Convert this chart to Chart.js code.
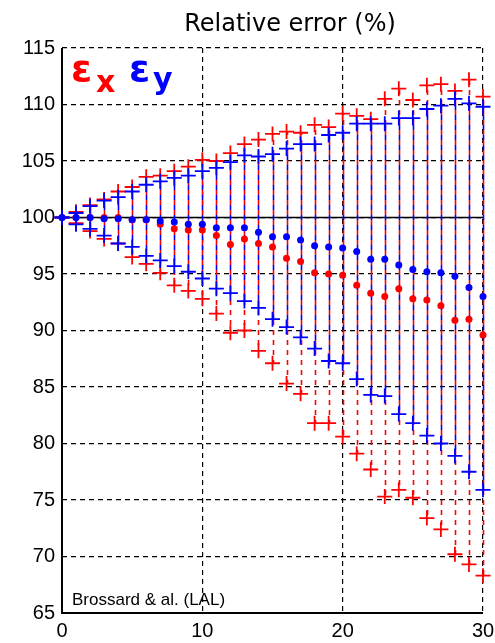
<!DOCTYPE html>
<html>
<head>
<meta charset="utf-8">
<script src="https://cdn.jsdelivr.net/npm/chart.js@4.4.1/dist/chart.umd.min.js"></script>
<style>
  body { margin: 0; background: #fff; }
  canvas { display: block; }
</style>
</head>
<body>
<canvas id="chart" width="495" height="643"></canvas>
<script>
// step index along the x axis
const steps = [0, 1, 2, 3, 4, 5, 6, 7, 8, 9, 10, 11, 12, 13, 14, 15, 16, 17, 18, 19, 20,
               21, 22, 23, 24, 25, 26, 27, 28, 29, 30];

// epsilon x (red): upper bound, central value, lower bound, in %
const redUpper = [100, 100.5, 101.1, 101.6, 102.3, 102.7, 103.6, 103.7, 104.1, 104.5, 105.1,
                  105.0, 105.7, 106.5, 106.9, 107.4, 107.6, 107.5, 108.2, 108.0, 109.2,
                  109.0, 108.7, 110.5, 111.4, 110.4, 111.7, 111.8, 111.2, 112.2, 110.7];
const redMid   = [100, 100, 100, 100, 100, 99.8, 99.8, 99.4, 99.0, 98.9, 98.9,
                  98.4, 97.6, 98.1, 97.7, 97.4, 96.4, 96.1, 95.1, 95.0, 94.9,
                  94.0, 93.3, 93.0, 93.7, 92.8, 92.7, 92.2, 90.9, 91.0, 89.6];
const redLower = [100, 99.5, 98.8, 98.1, 97.7, 96.5, 95.9, 95.1, 94.0, 93.5, 92.8,
                  91.5, 89.8, 90.0, 88.2, 87.1, 85.3, 84.4, 81.8, 81.8, 80.6,
                  79.1, 77.7, 75.3, 75.9, 75.2, 73.4, 72.4, 70.2, 69.3, 68.3];

// epsilon y (blue)
const blueUpper = [100, 100.4, 101.0, 101.5, 101.8, 102.3, 102.9, 103.2, 103.5, 103.7, 104.1,
                   104.4, 104.9, 105.5, 105.4, 105.6, 106.1, 106.5, 106.5, 107.3, 107.5,
                   108.3, 108.3, 108.3, 108.8, 108.8, 109.6, 109.9, 110.5, 110.1, 109.8];
const blueMid   = [100, 100, 100, 99.9, 99.9, 99.8, 99.8, 99.7, 99.6, 99.4, 99.4,
                   99.1, 99.1, 99.1, 98.7, 98.3, 98.3, 98.0, 97.5, 97.4, 97.3,
                   97.0, 96.3, 96.3, 95.8, 95.4, 95.2, 95.1, 94.8, 93.8, 93.0];
const blueLower = [100, 99.4, 99.0, 98.4, 97.7, 97.4, 96.6, 96.2, 95.7, 95.2, 94.6,
                   93.7, 93.3, 92.6, 92.0, 91.0, 90.3, 89.4, 88.4, 87.3, 87.1,
                   85.7, 84.3, 84.2, 82.6, 81.8, 80.7, 80.0, 78.9, 77.5, 75.9];

const xTicks = [0, 10, 20, 30];
const yMin = 65, yMax = 115, yStep = 5;

const RED = '#ff0000';
const BLUE = '#0000ff';

function points(values) {
  return steps.map((s, i) => ({ x: s, y: values[i] }));
}

function crosses(label, values, color, order) {
  return {
    label, data: points(values), order, clip: false,
    pointStyle: 'cross', pointRadius: 7.5, pointBorderWidth: 1.8,
    borderColor: color, backgroundColor: color, showLine: false
  };
}

function dots(label, values, color, order) {
  return {
    label, data: points(values), order, clip: false,
    pointStyle: 'circle', pointRadius: 3.5, pointBorderWidth: 0,
    borderColor: color, backgroundColor: color, showLine: false
  };
}

// axes, the 100% reference line and the dashed min-max ranges
const rangeLines = {
  id: 'rangeLines',
  beforeDatasetsDraw(chart) {
    const { ctx, chartArea: a, scales: { x, y } } = chart;
    ctx.save();
    ctx.strokeStyle = '#000';
    ctx.lineWidth = 2;
    ctx.beginPath();
    ctx.moveTo(a.left, a.top);
    ctx.lineTo(a.left, a.bottom);
    ctx.lineTo(a.right, a.bottom);
    ctx.stroke();

    const y100 = y.getPixelForValue(100);
    ctx.lineWidth = 1.6;
    ctx.beginPath();
    ctx.moveTo(a.left, y100);
    ctx.lineTo(a.right, y100);
    ctx.stroke();

    ctx.lineWidth = 1.6;
    ctx.setLineDash([5, 5]);
    const seg = (px, hi, lo, color, shift) => {
      const y0 = y.getPixelForValue(hi);
      const y1 = y.getPixelForValue(lo);
      ctx.strokeStyle = color;
      ctx.lineDashOffset = (y0 % 10) + shift;
      ctx.beginPath();
      ctx.moveTo(px, y0);
      ctx.lineTo(px, y1);
      ctx.stroke();
    };
    steps.forEach((s, i) => {
      const px = Math.round(x.getPixelForValue(s)) + 0.5;
      seg(px, redUpper[i], redLower[i], RED, 0);
      seg(px, blueUpper[i], blueLower[i], BLUE, 5);
    });
    ctx.restore();
  },
  afterDraw(chart) {
    const { ctx, chartArea: a } = chart;
    ctx.save();
    ctx.textBaseline = 'alphabetic';
    ctx.textAlign = 'center';
    ctx.fillStyle = '#000';
    ctx.font = '24px "DejaVu Sans"';
    ctx.fillText('Relative error (%)', 290, 31);

    ctx.textAlign = 'left';
    ctx.font = 'bold 38px "DejaVu Sans"';
    ctx.fillStyle = RED;
    ctx.fillText('\u03b5', a.left + 9, 81);
    ctx.font = 'bold 30px "DejaVu Sans"';
    ctx.fillText('x', a.left + 34, 92);
    ctx.font = 'bold 38px "DejaVu Sans"';
    ctx.fillStyle = BLUE;
    ctx.fillText('\u03b5', a.left + 67, 81);
    ctx.font = 'bold 30px "DejaVu Sans"';
    ctx.fillText('y', a.left + 91, 89);

    ctx.fillStyle = '#000';
    ctx.font = '17px "Liberation Sans"';
    ctx.fillText('Brossard & al. (LAL)', a.left + 10, 605);
    ctx.restore();
  }
};

new Chart(document.getElementById('chart'), {
  type: 'scatter',
  data: {
    datasets: [
      dots('\u03b5y', blueMid, BLUE, 0),
      crosses('\u03b5y max', blueUpper, BLUE, 1),
      crosses('\u03b5y min', blueLower, BLUE, 1),
      dots('\u03b5x', redMid, RED, 2),
      crosses('\u03b5x max', redUpper, RED, 3),
      crosses('\u03b5x min', redLower, RED, 3)
    ]
  },
  options: {
    responsive: false,
    animation: false,
    events: [],
    layout: { padding: { top: 48, right: 0, left: 0, bottom: 0 } },
    plugins: {
      legend: { display: false },
      tooltip: { enabled: false },
      title: { display: false }
    },
    scales: {
      x: {
        type: 'linear', min: 0, max: 30,
        afterBuildTicks: (scale) => { scale.ticks = xTicks.map(v => ({ value: v })); },
        afterFit: (scale) => {
          scale.height = 30;
          scale.paddingRight = 12;
          scale.paddingLeft = 0;
        },
        grid: { color: '#000', lineWidth: 1.2, drawTicks: false },
        border: { display: false, dash: [5, 4] },
        ticks: { color: '#000', padding: 6, font: { family: 'Liberation Sans', size: 20 } }
      },
      y: {
        type: 'linear', min: yMin, max: yMax,
        ticks: { stepSize: yStep, color: '#000', padding: 7, font: { family: 'Liberation Sans', size: 20 } },
        afterFit: (scale) => { scale.width = 62; },
        grid: { color: '#000', lineWidth: 1.2, drawTicks: false },
        border: { display: false, dash: [5, 4] }
      }
    }
  },
  plugins: [rangeLines]
});
</script>
</body>
</html>
